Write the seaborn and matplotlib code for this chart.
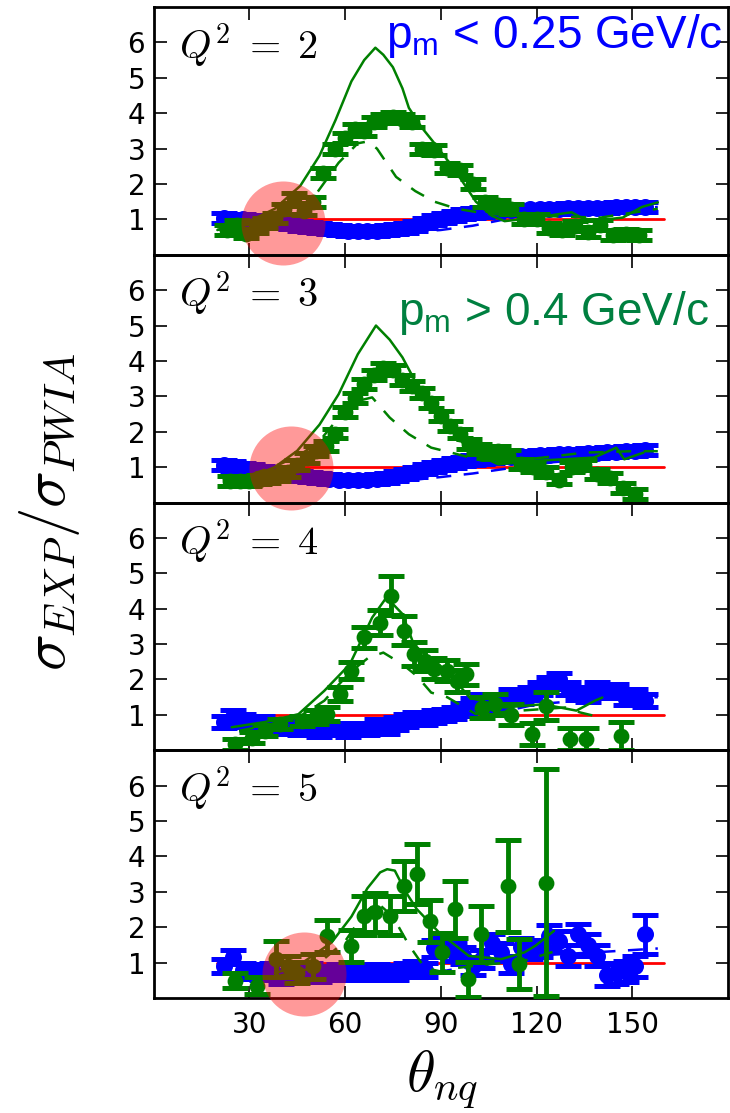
import numpy as np
import pandas as pd
import matplotlib
matplotlib.use("Agg")
import matplotlib.pyplot as plt
import seaborn as sns

# ---------------- data ----------------
Q2_VALUES = [2, 3, 4, 5]
X_TICKS = [30, 60, 90, 120, 150]
Y_TICKS = [1, 2, 3, 4, 5, 6]

# low missing momentum (blue) data, 3 degree bins
THETA_BLUE = [22, 25, 28, 31, 34, 37, 40, 43, 46, 49, 52, 55, 58, 61, 64, 67, 70, 73, 76, 79,
              82, 85, 88, 91, 94, 97, 100, 103, 106, 109, 112, 115, 118, 121, 124, 127, 130,
              133, 136, 139, 142, 145, 148, 151, 154]
BLUE_Q2_2 = [1.05, 1.02, 1.0, 0.97, 0.95, 0.92, 0.9, 0.86, 0.82, 0.78, 0.75, 0.72, 0.7, 0.68,
             0.67, 0.66, 0.67, 0.69, 0.72, 0.76, 0.82, 0.9, 0.97, 1.04, 1.1, 1.15, 1.19, 1.22,
             1.24, 1.25, 1.26, 1.27, 1.28, 1.28, 1.29, 1.3, 1.31, 1.31, 1.32, 1.33, 1.33, 1.34,
             1.35, 1.35, 1.36]
BLUE_Q2_3 = [1.05, 1.02, 0.98, 0.95, 0.9, 0.86, 0.82, 0.78, 0.74, 0.71, 0.68, 0.66, 0.65, 0.64,
             0.64, 0.65, 0.67, 0.7, 0.74, 0.8, 0.87, 0.94, 1.0, 1.06, 1.12, 1.16, 1.2, 1.23,
             1.26, 1.28, 1.3, 1.31, 1.32, 1.33, 1.35, 1.36, 1.37, 1.38, 1.4, 1.41, 1.42, 1.44,
             1.45, 1.46, 1.48]
BLUE_Q2_4 = [0.8, 0.95, 0.85, 0.75, 0.8, 0.65, 0.7, 0.65, 0.6, 0.65, 0.55, 0.6, 0.6, 0.55,
             0.6, 0.6, 0.7, 0.65, 0.75, 0.85, 0.9, 0.9, 0.95, 1.0, 1.05, 1.15, 1.3, 1.4,
             1.25, 1.35, 1.55, 1.5, 1.6, 1.75, 1.9, 2.0, 1.75, 1.6, 1.55, 1.75, 1.65, 1.7,
             1.45, 1.55, 1.4]
BLUE_Q2_5 = [0.9, 1.15, 0.8, 0.75, 0.7, 0.8, 0.6, 0.75, 0.7, 0.8, 0.65, 0.7, 0.75, 0.7,
             0.72, 0.7, 0.75, 0.72, 0.7, 0.8, 0.85, 0.8, 1.4, 1.5, 1.3, 1.2, 0.9, 1.1,
             1.55, 1.3, 0.95, 1.45, 1.35, 1.4, 1.75, 1.6, 1.2, 1.8, 1.5, 1.2, 0.65, 0.7,
             0.75, 0.9, 1.8]
BLUE_ERR_2 = [0.14] * 45
BLUE_ERR_3 = [0.14] * 45
BLUE_ERR_4 = [0.18] * 45
BLUE_ERR_5 = [0.2] * 22 + [0.25] * 12 + [0.3] * 10 + [0.55]

# high missing momentum (green) data
THETA_GREEN_2 = [23, 26, 29, 32, 35, 38, 41, 44, 47, 50, 53, 57, 60, 63, 66, 69, 72, 75, 78,
                 81, 84, 88, 92, 96, 100, 104, 108, 112, 116, 120, 124, 128, 132, 136, 140,
                 144, 148, 152]
GREEN_Q2_2 = [0.7, 0.85, 0.6, 0.75, 0.9, 1.05, 1.3, 1.6, 1.25, 1.5, 2.3, 3.0, 3.3, 3.55,
              3.5, 3.75, 3.85, 3.9, 3.85, 3.75, 3.0, 2.95, 2.45, 2.4, 2.0, 1.5, 1.4, 1.3,
              1.0, 1.0, 0.75, 0.7, 0.8, 0.65, 0.85, 0.55, 0.6, 0.55]
GREEN_ERR_2 = [0.14] * 38

THETA_GREEN_3 = [24, 27, 30, 33, 36, 39, 42, 45, 48, 51, 54, 57, 60, 63, 66, 69, 72, 75, 78,
                 81, 84, 87, 90, 93, 96, 99, 102, 105, 108, 111, 115, 119, 123, 127, 131, 135,
                 139, 143, 147, 151]
GREEN_Q2_3 = [0.6, 0.62, 0.6, 0.65, 0.7, 0.75, 0.85, 1.05, 1.25, 1.45, 1.6, 1.95, 2.55, 2.95,
              3.35, 3.6, 3.8, 3.75, 3.45, 3.3, 3.1, 2.8, 2.45, 2.15, 1.95, 1.65, 1.5, 1.4,
              1.45, 1.35, 1.1, 1.0, 0.85, 0.65, 1.0, 1.05, 0.8, 0.7, 0.4, 0.25]
GREEN_ERR_3 = [0.14] * 40

THETA_GREEN_4 = [25.5, 31, 35, 39.5, 46.5, 51, 54.5, 58.5, 62, 66, 71, 74.5, 78.5, 81.5, 85,
                 88, 92, 95, 98, 103, 107, 112, 118.5, 123, 130.5, 135.5, 146.5]
GREEN_Q2_4 = [0.17, 0.36, 0.55, 0.74, 0.83, 0.93, 1.02, 1.59, 2.25, 3.19, 3.61, 4.37, 3.38,
              2.72, 2.53, 2.3, 2.25, 1.96, 2.15, 1.2, 1.3, 1.0, 0.46, 1.26, 0.32, 0.32, 0.41]
GREEN_ERR_4 = [0.15, 0.15, 0.15, 0.15, 0.15, 0.2, 0.2, 0.2, 0.25, 0.3, 0.35, 0.55, 0.4, 0.35,
               0.3, 0.3, 0.3, 0.3, 0.3, 0.3, 0.3, 0.3, 0.3, 0.4, 0.3, 0.3, 0.4]

THETA_GREEN_5 = [25.5, 32.5, 38.5, 42, 45, 50, 54.5, 62, 66, 69.5, 74, 78.5, 82.5, 86.5, 90.5,
                 94.5, 98.5, 102.5, 111, 114.5, 123]
GREEN_Q2_5 = [0.49, 0.35, 1.1, 0.9, 0.72, 0.9, 1.76, 1.48, 2.32, 2.42, 2.32, 3.17, 3.5, 2.18,
              1.29, 2.51, 0.53, 1.81, 3.17, 0.96, 3.26]
GREEN_ERR_5 = [0.22, 0.25, 0.5, 0.3, 0.3, 0.35, 0.45, 0.45, 0.55, 0.55, 0.55, 0.7, 0.85, 0.6,
               0.55, 0.8, 0.5, 0.8, 1.3, 0.7, 3.2]

# calculations: full (solid) and reduced (dashed) for high p_m, dashed for low p_m
CALC_FULL_THETA_2 = [20, 30, 38, 46, 52, 57, 62, 66, 69.5, 72, 75, 78, 80, 84, 88, 94, 101,
                     106, 110, 120, 127, 131, 134, 138, 147, 153, 158]
CALC_FULL_2 = [0.7, 0.95, 1.3, 1.95, 2.8, 3.8, 4.9, 5.5, 5.85, 5.65, 5.3, 4.7, 4.15, 3.6,
               3.15, 2.45, 1.5, 1.1, 0.95, 1.05, 1.15, 1.2, 1.05, 0.96, 1.05, 1.35, 1.48]
CALC_RED_THETA_2 = [20, 30, 40, 50, 58, 64, 67, 70, 73, 76, 82, 88, 95, 105, 120, 140, 158]
CALC_RED_2 = [0.7, 0.9, 1.1, 1.6, 2.6, 3.15, 3.2, 3.0, 2.6, 2.2, 1.8, 1.5, 1.3, 1.15, 1.1,
              1.05, 1.3]

CALC_FULL_THETA_3 = [22, 30, 38, 45, 52, 58, 64, 69.7, 74, 78, 82.5, 87, 92, 99, 108, 120,
                     138, 145, 147.5, 153.5]
CALC_FULL_3 = [0.65, 0.7, 1.0, 1.46, 2.2, 3.06, 4.19, 5.0, 4.6, 4.1, 3.34, 2.75, 2.2, 1.46,
               1.08, 1.18, 1.27, 1.55, 1.22, 1.41]
CALC_RED_THETA_3 = [22, 31, 40, 46, 52, 59, 64, 68.5, 74, 80, 87, 95, 103, 115, 125, 135,
                    150, 158]
CALC_RED_3 = [0.7, 0.8, 1.1, 1.35, 1.74, 2.5, 2.87, 2.97, 2.4, 1.93, 1.55, 1.37, 1.18, 1.2,
              1.3, 1.41, 1.45, 1.45]

CALC_FULL_THETA_4 = [24.5, 35, 45.4, 53.5, 61.5, 68.5, 73, 78, 81.5, 86, 92, 99, 110, 122,
                     132.5, 138.3, 140.6]
CALC_FULL_4 = [0.65, 0.8, 1.02, 1.68, 2.43, 3.75, 4.32, 3.85, 3.0, 2.62, 2.25, 1.49, 1.21,
               1.3, 1.12, 1.4, 1.49]
CALC_RED_THETA_4 = [26.8, 35, 45.4, 53.5, 61.5, 67.4, 72, 78, 82.5, 87, 92, 101, 115, 129,
                    133.6, 140]
CALC_RED_4 = [0.55, 0.7, 0.93, 1.4, 2.2, 2.62, 2.76, 2.43, 2.1, 1.63, 1.5, 1.02, 1.12, 1.21,
              1.07, 0.93]

CALC_FULL_THETA_5 = [38, 45, 50, 55.8, 62, 67, 71, 73.2, 75.6, 79, 82.5, 89.5, 98.8, 109,
                     116.2, 119.7, 125.5]
CALC_FULL_5 = [0.7, 0.9, 1.2, 1.57, 2.3, 3.1, 3.55, 3.64, 3.6, 3.0, 2.51, 1.85, 1.19, 1.1,
               1.29, 1.48, 1.9]
CALC_RED_THETA_5 = [38, 50, 60, 66, 70, 75, 80, 85, 90, 95, 105, 116, 125]
CALC_RED_5 = [0.6, 0.85, 1.6, 2.4, 2.7, 2.3, 1.5, 0.85, 0.75, 0.85, 0.95, 1.05, 1.3]

CALC_LOW_THETA = [20, 40, 60, 75, 90, 100, 110, 120, 140, 158]
CALC_LOW_2 = [1.0, 0.85, 0.65, 0.6, 0.7, 0.82, 1.0, 1.15, 1.25, 1.35]
CALC_LOW_3 = [1.0, 0.8, 0.6, 0.58, 0.72, 0.82, 0.95, 1.1, 1.25, 1.35]
CALC_LOW_4 = [0.95, 0.75, 0.6, 0.62, 0.8, 0.95, 1.1, 1.3, 1.45, 1.5]
CALC_LOW_5 = [0.9, 0.75, 0.65, 0.65, 0.75, 0.9, 1.05, 1.2, 1.3, 1.4]

# PWIA reference line (ratio = 1)
REF_THETA = [20, 160]
REF_VAL = [1, 1]

# highlighted regions (theta, ratio) per panel index
HIGHLIGHT_PANEL = [0, 1, 3]
HIGHLIGHT_THETA = [40.5, 43, 47]
HIGHLIGHT_VAL = [0.9, 0.98, 0.68]

blue_vals = [BLUE_Q2_2, BLUE_Q2_3, BLUE_Q2_4, BLUE_Q2_5]
blue_errs = [BLUE_ERR_2, BLUE_ERR_3, BLUE_ERR_4, BLUE_ERR_5]
green_theta = [THETA_GREEN_2, THETA_GREEN_3, THETA_GREEN_4, THETA_GREEN_5]
green_vals = [GREEN_Q2_2, GREEN_Q2_3, GREEN_Q2_4, GREEN_Q2_5]
green_errs = [GREEN_ERR_2, GREEN_ERR_3, GREEN_ERR_4, GREEN_ERR_5]
full_theta = [CALC_FULL_THETA_2, CALC_FULL_THETA_3, CALC_FULL_THETA_4, CALC_FULL_THETA_5]
full_vals = [CALC_FULL_2, CALC_FULL_3, CALC_FULL_4, CALC_FULL_5]
red_theta = [CALC_RED_THETA_2, CALC_RED_THETA_3, CALC_RED_THETA_4, CALC_RED_THETA_5]
red_vals = [CALC_RED_2, CALC_RED_3, CALC_RED_4, CALC_RED_5]
low_vals = [CALC_LOW_2, CALC_LOW_3, CALC_LOW_4, CALC_LOW_5]

# ---------------- style ----------------
sns.set_style("ticks")
plt.rcParams['font.family'] = ['DejaVu Sans']
plt.rcParams['mathtext.fontset'] = 'cm'
plt.rcParams['mathtext.rm'] = 'Liberation Sans'
plt.rcParams['mathtext.it'] = 'Liberation Sans:italic'
plt.rcParams['mathtext.bf'] = 'Liberation Sans:bold'
plt.rcParams['text.color'] = 'black'
plt.rcParams['axes.edgecolor'] = 'black'
plt.rcParams['xtick.color'] = 'black'
plt.rcParams['ytick.color'] = 'black'

BLUE = (0, 0, 1)
GREEN = (0, 0.5, 0)
TEXT_GREEN = (0, 0.5, 0.25)

fig, axes = plt.subplots(4, 1, figsize=(7.3, 11.13), dpi=100, sharex=True)
fig.subplots_adjust(left=0.2103, right=0.9973, top=0.9937, bottom=0.1033, hspace=0)

for i, ax in enumerate(axes):
    ax.set_facecolor('none')
    # reference line
    sns.lineplot(x=REF_THETA, y=REF_VAL, ax=ax, color='red', lw=2, zorder=1,
                 estimator=None, sort=False)
    # low p_m calculation (dashed blue)
    sns.lineplot(x=CALC_LOW_THETA, y=low_vals[i], ax=ax, color=BLUE, lw=1.8,
                 linestyle=(0, (6, 5)), zorder=1.5, estimator=None, sort=False)
    # blue data
    ax.errorbar(THETA_BLUE, blue_vals[i], yerr=blue_errs[i], fmt='none', ecolor=BLUE,
                elinewidth=3.5, capsize=9.5, capthick=3.6, zorder=2)
    sns.scatterplot(x=THETA_BLUE, y=blue_vals[i], ax=ax, color=BLUE, s=150,
                    linewidth=0, zorder=2.1)
    # green data
    ax.errorbar(green_theta[i], green_vals[i], yerr=green_errs[i], fmt='none', ecolor=GREEN,
                elinewidth=3.5, capsize=9.5, capthick=3.6, zorder=3)
    sns.scatterplot(x=green_theta[i], y=green_vals[i], ax=ax, color=GREEN, s=130,
                    linewidth=0, zorder=3.1)
    # calculations for high p_m
    sns.lineplot(x=full_theta[i], y=full_vals[i], ax=ax, color=GREEN, lw=1.8, zorder=4,
                 estimator=None, sort=False)
    sns.lineplot(x=red_theta[i], y=red_vals[i], ax=ax, color=GREEN, lw=1.8,
                 linestyle=(0, (6, 5)), zorder=4, estimator=None, sort=False)

    ax.set_xlim(0, 180)
    ax.set_ylim(0, 7)
    ax.set_yticks(Y_TICKS)
    ax.set_xticks(X_TICKS)
    ax.tick_params(direction='in', length=9, width=1.2, top=True, right=True,
                   labelsize=20, color='black', labelcolor='black')
    ax.tick_params(axis='y', pad=6)
    ax.tick_params(axis='x', pad=9)
    for sp in ax.spines.values():
        sp.set_linewidth(2)
        sp.set_color('black')
        sp.set_visible(True)
    ax.set_xlabel('')
    ax.set_ylabel('')
    ax.text(0.045, 0.79, rf"$Q^2\;=\;{Q2_VALUES[i]}$", transform=ax.transAxes,
            fontsize=29, ha='left', va='baseline', color='black')

for p, tx, ty in zip(HIGHLIGHT_PANEL, HIGHLIGHT_THETA, HIGHLIGHT_VAL):
    axes[p].scatter([tx], [ty], s=3660, color='red', alpha=0.4, linewidths=0,
                    zorder=10, clip_on=False)

axes[0].text(0.99, 0.835, r"p$_\mathrm{m}$ < 0.25 GeV/c", transform=axes[0].transAxes,
             fontsize=33, color=BLUE, ha='right', va='baseline',
             family='Liberation Sans', math_fontfamily='custom')
axes[1].text(0.967, 0.717, r"p$_\mathrm{m}$ > 0.4 GeV/c", transform=axes[1].transAxes,
             fontsize=33, color=TEXT_GREEN, ha='right', va='baseline',
             family='Liberation Sans', math_fontfamily='custom')

fig.text(50 / 730, 1 - 512 / 1113, r"$\sigma_{EXP}/\sigma_{PWIA}$", rotation=90,
         ha='center', va='center', fontsize=44, color='black')
fig.text(442 / 730, 1 - 1080 / 1113, r"$\theta_{nq}$", ha='center', va='center',
         fontsize=42, color='black')

fig.savefig('out.png', dpi=100)
